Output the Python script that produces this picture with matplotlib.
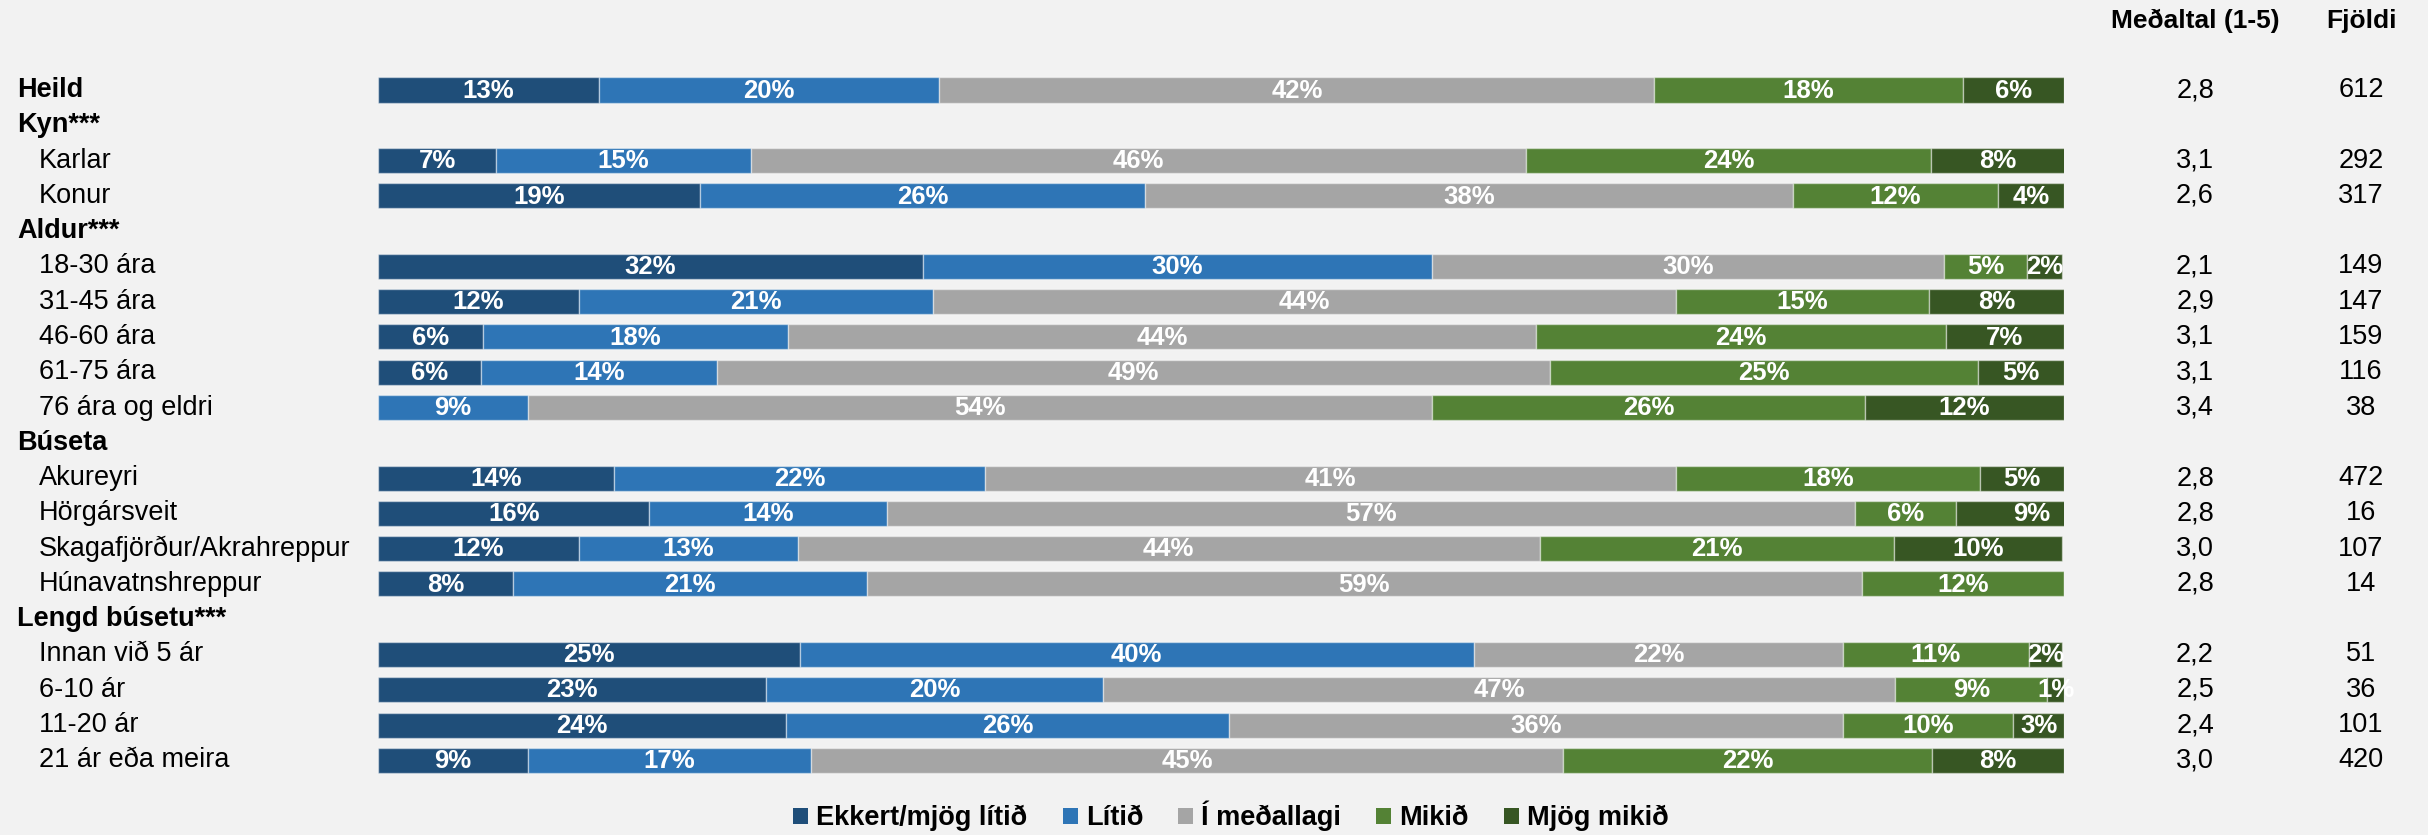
import matplotlib
matplotlib.use('Agg')
import matplotlib.pyplot as plt
import numpy as np
from matplotlib.transforms import blended_transform_factory
from matplotlib.patches import Patch

# ---- data ----
row_labels = ["Heild", "Kyn***", "Karlar", "Konur", "Aldur***", "18-30 ára", "31-45 ára",
              "46-60 ára", "61-75 ára", "76 ára og eldri", "Búseta", "Akureyri", "Hörgársveit",
              "Skagafjörður/Akrahreppur", "Húnavatnshreppur", "Lengd búsetu***",
              "Innan við 5 ár", "6-10 ár", "11-20 ár", "21 ár eða meira"]
bold_rows = ["Heild", "Kyn***", "Aldur***", "Búseta", "Lengd búsetu***"]
N = np.nan
ekkert = [13.1, N, 7.0, 19.1, N, 32.3, 11.9, 6.2, 6.1, 0.0, N, 14.0, 16.1, 11.9, 8.0, N, 25.0, 23.0, 24.2, 8.9]
litid = [20.2, N, 15.1, 26.4, N, 30.2, 21.0, 18.1, 14.0, 8.9, N, 22.0, 14.1, 13.0, 21.0, N, 40.0, 20.0, 26.3, 16.8]
medal = [42.4, N, 46.0, 38.4, N, 30.4, 44.1, 44.4, 49.4, 53.6, N, 41.0, 57.4, 44.0, 59.0, N, 21.9, 47.0, 36.4, 44.6]
mikid = [18.3, N, 24.0, 12.2, N, 4.9, 15.0, 24.3, 25.4, 25.7, N, 18.0, 6.0, 21.0, 12.0, N, 11.0, 9.0, 10.1, 21.9]
mjog = [6.0, N, 8.0, 3.9, N, 2.1, 8.0, 7.0, 5.1, 11.8, N, 5.0, 9.0, 10.0, 0.0, N, 2.0, 1.0, 3.0, 7.8]
medaltal = [2.8, N, 3.1, 2.6, N, 2.1, 2.9, 3.1, 3.1, 3.4, N, 2.8, 2.8, 3.0, 2.8, N, 2.2, 2.5, 2.4, 3.0]
fjoldi = [612, None, 292, 317, None, 149, 147, 159, 116, 38, None, 472, 16, 107, 14, None, 51, 36, 101, 420]
series_names = ["Ekkert/mjög lítið", "Lítið", "Í meðallagi", "Mikið", "Mjög mikið"]
colors = ["#1F4E79", "#2E75B6", "#A5A5A5", "#548235", "#375623"]
col_headers = ["Meðaltal (1-5)", "Fjöldi"]

FONT = "Liberation Sans"
plt.rcParams['font.family'] = [FONT, 'DejaVu Sans']

W, H = 2428, 835
fig = plt.figure(figsize=(W / 100, H / 100), dpi=100, facecolor="#F2F2F2")

# axes geometry (pixels)
x0, x1 = 378, 2064
y_first, dy = 90, 35.28
top_px = y_first - dy
bot_px = y_first + dy * len(row_labels)
ax = fig.add_axes([x0 / W, 1 - bot_px / H, (x1 - x0) / W, (bot_px - top_px) / H])
ax.set_facecolor("#F2F2F2")
ax.set_xlim(0, 100)
ax.set_ylim(len(row_labels), -1)
ax.axis("off")

series = [ekkert, litid, medal, mikid, mjog]
ypos = np.arange(len(row_labels))
left = np.zeros(len(row_labels))
for vals, c in zip(series, colors):
    v = np.array(vals, dtype=float)
    mask = ~np.isnan(v)
    ax.barh(ypos[mask], v[mask], left=left[mask], height=0.71, color=c,
            edgecolor=(1, 1, 1, 0.45), linewidth=1.0)
    for yi, vi, li in zip(ypos[mask], v[mask], left[mask]):
        if vi > 0:
            ax.text(li + vi / 2, yi + 0.02, f"{int(round(vi))}%", ha="center", va="center",
                    color="white", fontsize=18.5, fontweight="bold", clip_on=False)
    left[mask] += v[mask]

trans = blended_transform_factory(fig.transFigure, ax.transData)
for i, lab in enumerate(row_labels):
    if lab in bold_rows:
        ax.text(17 / W, i, lab, transform=trans, ha="left", va="center",
                fontsize=19.5, fontweight="bold", color="black")
    else:
        ax.text(39 / W, i, lab, transform=trans, ha="left", va="center",
                fontsize=19.5, color="black")

mx, fx = 2195 / W, 2361 / W
for i in range(len(row_labels)):
    if not np.isnan(medaltal[i]):
        ax.text(mx, i, f"{medaltal[i]:.1f}".replace(".", ","), transform=trans,
                ha="center", va="center", fontsize=19.5, color="black")
    if fjoldi[i] is not None:
        ax.text(fx, i, f"{fjoldi[i]}", transform=trans,
                ha="center", va="center", fontsize=19.5, color="black")

fig.text(mx, 1 - 21 / H, col_headers[0], ha="center", va="center",
         fontsize=19, fontweight="bold")
fig.text(fx, 1 - 21 / H, col_headers[1], ha="center", va="center",
         fontsize=19, fontweight="bold")

handles = [Patch(facecolor=c, edgecolor="none", label=n) for c, n in zip(colors, series_names)]
leg = fig.legend(handles=handles, loc="center", bbox_to_anchor=(1231 / W, 1 - 816 / H),
                 ncol=5, frameon=False, handlelength=0.55, handleheight=0.55,
                 handletextpad=0.3, columnspacing=1.3,
                 prop={"family": FONT, "weight": "bold", "size": 19.5})

fig.savefig("out.png", dpi=100, facecolor=fig.get_facecolor())
